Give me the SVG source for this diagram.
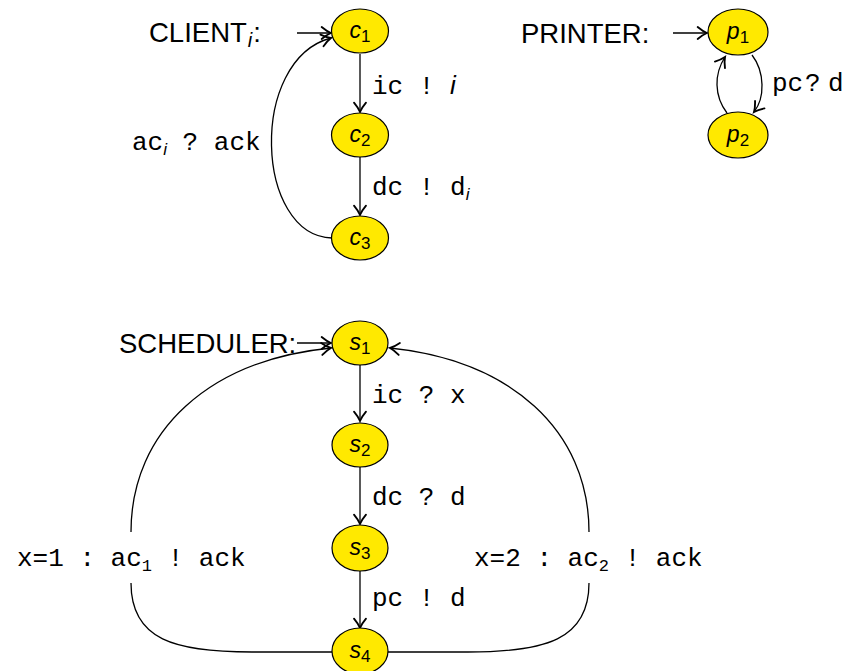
<svg xmlns="http://www.w3.org/2000/svg" width="845" height="671" viewBox="0 0 845 671">
  <style>
    .node { fill: #ffe900; stroke: #000; stroke-width: 1.2; }
    .nl { font-family: "Liberation Sans", Arial, sans-serif; font-style: italic; font-size: 23px; fill: #000; }
    .sub { font-style: normal; font-size: 17px; }
    .title { font-family: "Liberation Sans", Arial, sans-serif; font-size: 27.5px; fill: #000; }
    .tt { font-family: "Liberation Mono", "Courier New", monospace; font-size: 26px; fill: #000; }
    .ttsub { font-size: 17px; }
    .mi { font-family: "Liberation Sans", Arial, sans-serif; font-style: italic; }
    .edge { fill: none; stroke: #000; stroke-width: 1.3; }
  </style>
  <defs>
    <marker id="arr" markerUnits="userSpaceOnUse" markerWidth="16" markerHeight="16" viewBox="-9 -6 11 12" refX="0" refY="0" orient="auto">
      <path d="M -7 -4.5 C -4 -2 -1.5 -0.6 0 0 C -1.5 0.6 -4 2 -7 4.5" fill="none" stroke="#000" stroke-width="1.4" stroke-linecap="round"/>
    </marker>
  </defs>

  <!-- process titles -->
  <text class="title" x="149" y="42">CLIENT<tspan class="mi" font-size="20" dx="1" dy="5">i</tspan><tspan dx="1" dy="-5">:</tspan></text>
  <text class="title" x="521" y="43">PRINTER:</text>
  <text class="title" x="119" y="353">SCHEDULER:</text>

  <!-- transitions -->
  <g id="connectors">
    <!-- client -->
    <path class="edge" d="M 297 33 L 331 33" marker-end="url(#arr)"/>
    <path class="edge" d="M 360 54 L 360 112" marker-end="url(#arr)"/>
    <path class="edge" d="M 360 157 L 360 215" marker-end="url(#arr)"/>
    <path class="edge" d="M 332 238 C 255 236 248 60 331 38" marker-end="url(#arr)"/>
    <!-- printer -->
    <path class="edge" d="M 673 33 L 707 33" marker-end="url(#arr)"/>
    <path class="edge" d="M 752 55 C 765 72 765 98 754 112" marker-end="url(#arr)"/>
    <path class="edge" d="M 727 113 C 714 96 714 74 725 57" marker-end="url(#arr)"/>
    <!-- scheduler -->
    <path class="edge" d="M 297 343 L 331 343" marker-end="url(#arr)"/>
    <path class="edge" d="M 360 365 L 360 421" marker-end="url(#arr)"/>
    <path class="edge" d="M 360 467 L 360 524" marker-end="url(#arr)"/>
    <path class="edge" d="M 360 571 L 360 628" marker-end="url(#arr)"/>
    <path class="edge" d="M 131 532 C 131 430 210 360 331 348" marker-end="url(#arr)"/>
    <path class="edge" d="M 589 532 C 589 430 510 360 390 348" marker-end="url(#arr)"/>
    <path class="edge" d="M 332 652 L 252 652 C 175 652 131 640 131 583"/>
    <path class="edge" d="M 388 652 L 468 652 C 545 652 589 640 589 583"/>
  </g>

  <!-- transition labels -->
  <text class="tt" x="372" y="94">ic ! <tspan class="mi">i</tspan></text>
  <text class="tt" x="372" y="195">dc ! d<tspan class="mi ttsub" dy="5">i</tspan></text>
  <text class="tt" x="132" y="150">ac<tspan class="mi ttsub" dy="5">i</tspan><tspan dy="-5"> ? ack</tspan></text>
  <text class="tt" x="772" y="91">pc</text>
  <text class="tt" x="805" y="91">?</text>
  <text class="tt" x="828" y="91">d</text>
  <text class="tt" x="372" y="403">ic ? x</text>
  <text class="tt" x="372" y="505">dc ? d</text>
  <text class="tt" x="372" y="606">pc ! d</text>
  <text class="tt" x="17" y="566">x=1 : ac<tspan class="ttsub" dy="5">1</tspan><tspan dy="-5"> ! ack</tspan></text>
  <text class="tt" x="474" y="566">x=2 : ac<tspan class="ttsub" dy="5">2</tspan><tspan dy="-5"> ! ack</tspan></text>

  <!-- client states -->
  <g id="c1"><ellipse class="node" cx="360" cy="31" rx="28.5" ry="22"/><text class="nl" x="360" y="38" text-anchor="middle">c<tspan class="sub" dy="4">1</tspan></text></g>
  <g id="c2"><ellipse class="node" cx="360" cy="135" rx="28.5" ry="22"/><text class="nl" x="360" y="142" text-anchor="middle">c<tspan class="sub" dy="4">2</tspan></text></g>
  <g id="c3"><ellipse class="node" cx="360" cy="238" rx="28.5" ry="22"/><text class="nl" x="360" y="245" text-anchor="middle">c<tspan class="sub" dy="4">3</tspan></text></g>

  <!-- printer states -->
  <g id="p1"><ellipse class="node" cx="738" cy="32" rx="30" ry="23"/><text class="nl" x="738" y="39" text-anchor="middle">p<tspan class="sub" dy="4">1</tspan></text></g>
  <g id="p2"><ellipse class="node" cx="738" cy="135" rx="30" ry="23"/><text class="nl" x="738" y="142" text-anchor="middle">p<tspan class="sub" dy="4">2</tspan></text></g>

  <!-- scheduler states -->
  <g id="s1"><ellipse class="node" cx="360" cy="343" rx="28" ry="22"/><text class="nl" x="360" y="350" text-anchor="middle">s<tspan class="sub" dy="4">1</tspan></text></g>
  <g id="s2"><ellipse class="node" cx="360" cy="445" rx="28" ry="22"/><text class="nl" x="360" y="452" text-anchor="middle">s<tspan class="sub" dy="4">2</tspan></text></g>
  <g id="s3"><ellipse class="node" cx="360" cy="548" rx="28" ry="23"/><text class="nl" x="360" y="555" text-anchor="middle">s<tspan class="sub" dy="4">3</tspan></text></g>
  <g id="s4"><ellipse class="node" cx="360" cy="651" rx="28" ry="23"/><text class="nl" x="360" y="658" text-anchor="middle">s<tspan class="sub" dy="4">4</tspan></text></g>
</svg>
